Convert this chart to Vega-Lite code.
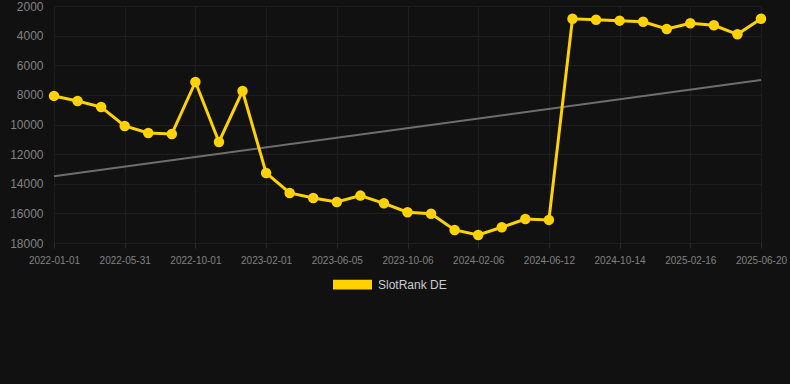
{
  "$schema": "https://vega.github.io/schema/vega-lite/v6.json",
  "width": 740,
  "height": 237,
  "autosize": {"type": "none"},
  "padding": {"left": 45, "top": 6, "right": 5, "bottom": 141},
  "background": "#111111",
  "config": {
    "view": {"stroke": null},
    "font": "Liberation Sans",
    "axis": {"labelFont": "Liberation Sans", "labelColor": "#828282", "gridColor": "#1e1e1e", "gridWidth": 1, "domain": false}
  },
  "datasets": {
    "rank": [
      {"date": "2022-01-01", "rank": 8070, "series": "SlotRank DE"},
      {"date": "2022-02-20", "rank": 8410, "series": "SlotRank DE"},
      {"date": "2022-04-11", "rank": 8820, "series": "SlotRank DE"},
      {"date": "2022-05-31", "rank": 10100, "series": "SlotRank DE"},
      {"date": "2022-07-11", "rank": 10570, "series": "SlotRank DE"},
      {"date": "2022-08-21", "rank": 10640, "series": "SlotRank DE"},
      {"date": "2022-10-01", "rank": 7130, "series": "SlotRank DE"},
      {"date": "2022-11-11", "rank": 11180, "series": "SlotRank DE"},
      {"date": "2022-12-22", "rank": 7740, "series": "SlotRank DE"},
      {"date": "2023-02-01", "rank": 13270, "series": "SlotRank DE"},
      {"date": "2023-03-14", "rank": 14620, "series": "SlotRank DE"},
      {"date": "2023-04-24", "rank": 14960, "series": "SlotRank DE"},
      {"date": "2023-06-05", "rank": 15230, "series": "SlotRank DE"},
      {"date": "2023-07-16", "rank": 14800, "series": "SlotRank DE"},
      {"date": "2023-08-26", "rank": 15320, "series": "SlotRank DE"},
      {"date": "2023-10-06", "rank": 15920, "series": "SlotRank DE"},
      {"date": "2023-11-16", "rank": 16020, "series": "SlotRank DE"},
      {"date": "2023-12-27", "rank": 17120, "series": "SlotRank DE"},
      {"date": "2024-02-06", "rank": 17460, "series": "SlotRank DE"},
      {"date": "2024-03-18", "rank": 16940, "series": "SlotRank DE"},
      {"date": "2024-04-28", "rank": 16380, "series": "SlotRank DE"},
      {"date": "2024-06-12", "rank": 16440, "series": "SlotRank DE"},
      {"date": "2024-07-23", "rank": 2860, "series": "SlotRank DE"},
      {"date": "2024-09-02", "rank": 2930, "series": "SlotRank DE"},
      {"date": "2024-10-14", "rank": 2990, "series": "SlotRank DE"},
      {"date": "2024-11-25", "rank": 3060, "series": "SlotRank DE"},
      {"date": "2025-01-05", "rank": 3550, "series": "SlotRank DE"},
      {"date": "2025-02-16", "rank": 3170, "series": "SlotRank DE"},
      {"date": "2025-03-29", "rank": 3300, "series": "SlotRank DE"},
      {"date": "2025-05-09", "rank": 3910, "series": "SlotRank DE"},
      {"date": "2025-06-20", "rank": 2860, "series": "SlotRank DE"}
    ],
    "trend": [
      {"date": "2022-01-01", "trend": 13500},
      {"date": "2025-06-20", "trend": 6995}
    ]
  },
  "encoding": {
    "x": {
      "field": "date",
      "type": "ordinal",
      "scale": {"type": "point", "range": [9, 716], "padding": 0},
      "axis": {
        "title": null,
        "labelAngle": 0,
        "labelFontSize": 10,
        "labelPadding": 7,
        "tickColor": "#2a2a2a",
        "tickSize": 5,
        "grid": true,
        "values": ["2022-01-01", "2022-05-31", "2022-10-01", "2023-02-01", "2023-06-05", "2023-10-06", "2024-02-06", "2024-06-12", "2024-10-14", "2025-02-16", "2025-06-20"]
      }
    }
  },
  "layer": [
    {
      "data": {"name": "trend"},
      "mark": {"type": "line", "color": "#6e6e6e", "strokeWidth": 2},
      "encoding": {
        "y": {
          "field": "trend",
          "type": "quantitative",
          "scale": {"domain": [2000, 18000], "reverse": true, "nice": false, "zero": false},
          "axis": {
            "title": null,
            "values": [2000, 4000, 6000, 8000, 10000, 12000, 14000, 16000, 18000],
            "format": "d",
            "labelFontSize": 12,
            "ticks": false,
            "labelPadding": 2,
            "labelOverlap": false
          }
        }
      }
    },
    {
      "data": {"name": "rank"},
      "mark": {"type": "line", "strokeWidth": 3, "point": {"size": 110, "filled": true, "opacity": 1}},
      "encoding": {
        "y": {
          "field": "rank",
          "type": "quantitative",
          "axis": {
            "title": null,
            "values": [2000, 4000, 6000, 8000, 10000, 12000, 14000, 16000, 18000],
            "format": "d",
            "labelFontSize": 12,
            "ticks": false,
            "labelPadding": 2,
            "labelOverlap": false
          }
        },
        "color": {
          "field": "series",
          "type": "nominal",
          "scale": {"domain": ["SlotRank DE"], "range": ["#FFD200"]},
          "legend": {
            "title": null,
            "orient": "none",
            "legendX": 288,
            "legendY": 259,
            "symbolType": "M-1,-0.25L1,-0.25L1,0.25L-1,0.25Z",
            "symbolSize": 1521,
            "symbolStrokeWidth": 0,
            "labelColor": "#cccccc",
            "labelFontSize": 12,
            "labelFont": "Liberation Sans",
            "labelOffset": 6
          }
        }
      }
    }
  ]
}
